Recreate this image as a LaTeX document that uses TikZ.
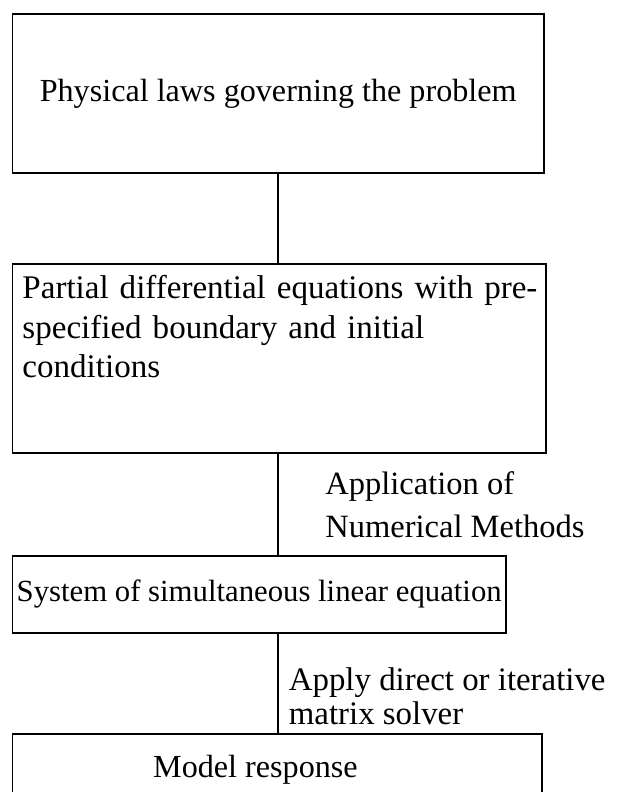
\documentclass[tikz,border=0pt]{standalone}
\usepackage{fontspec}
\setmainfont{Liberation Serif}
\usetikzlibrary{positioning,calc}
\tikzset{
  link/.style={line width=1.1pt, draw=black},
  every node/.style={anchor=center}
}

\begin{document}
\begin{tikzpicture}[
  x=0.02cm, y=-0.02cm,
  font=\fontsize{18.3}{22.4}\selectfont,
  box/.style={draw=black, fill=white, line width=1.1pt, outer sep=0pt, inner xsep=0.2cm, align=center},
  note/.style={inner sep=0pt, align=left, anchor=west}
]
\useasboundingbox (0,0) rectangle (635,792);
\clip (0,0) rectangle (635,792);

\node[box, anchor=north west, minimum width=10.63cm, minimum height=3.17cm] (laws) at (12.5,14.4) {Physical laws governing the problem};
\node[box, below=1.82cm of laws.south west, anchor=north west, align=left,
      text width=10.28cm, inner xsep=0.2cm, inner ysep=0.2cm, text height=0.5cm, text depth=2.88cm,
      font=\fontsize{18.8}{22.4}\selectfont] (pde)
  {\mbox{Partial differential equations with pre-}\\specified boundary and initial\\conditions};
\node[box, below=2.06cm of pde.south west, anchor=north west, minimum width=9.87cm, minimum height=1.54cm,
      inner xsep=0.08cm, font=\fontsize{17.5}{21}\selectfont] (sys) {System of simultaneous linear equation};
\node[box, below=2.02cm of sys.south west, anchor=north west, minimum width=10.6cm,
      inner ysep=0.1cm, text height=0.78cm, text depth=0.5cm] (model) {Model response\hspace{0.88cm}};

\draw[link] ([xshift=-0.03cm]laws.south -| pde.north) -- ([xshift=-0.03cm]pde.north);
\draw[link] ([xshift=-0.03cm]pde.south) -- ([xshift=-0.03cm]pde.south |- sys.north)
  node[midway, note, xshift=0.93cm, font=\fontsize{18.5}{24.5}\selectfont] (num) {Application of\\Numerical Methods};
\draw[link] ([xshift=-0.03cm]pde.south |- sys.south) -- ([xshift=-0.03cm]pde.south |- model.north)
  node[pos=0.63, note, xshift=0.2cm, font=\fontsize{18.7}{19}\selectfont] (solve) {Apply direct or iterative\\matrix solver};
\end{tikzpicture}
\end{document}
